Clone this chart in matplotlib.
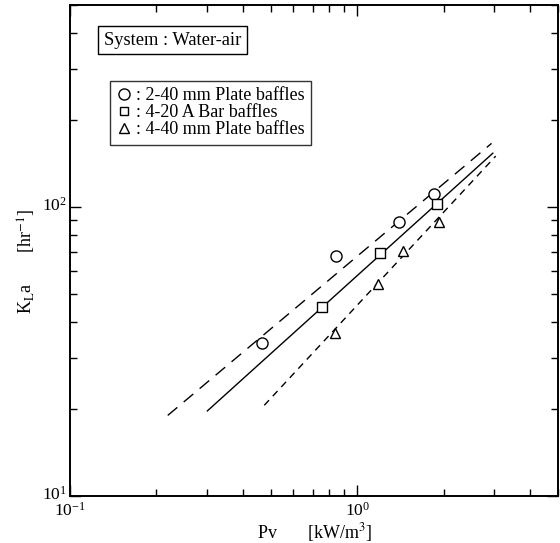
import matplotlib
matplotlib.use("Agg")
import matplotlib.pyplot as plt
import matplotlib.transforms as mtransforms
from matplotlib.ticker import LogLocator, NullFormatter
from matplotlib.lines import Line2D

plt.rcParams['font.family'] = ['Liberation Serif', 'DejaVu Serif']
plt.rcParams['mathtext.fontset'] = 'stix'

# data
pv_circle = [0.468, 0.845, 1.40, 1.85]
kla_circle = [33.7, 67.8, 88.8, 110.9]
pv_square = [0.756, 1.20, 1.90]
kla_square = [44.9, 69.4, 102.4]
pv_triangle = [0.839, 1.18, 1.44, 1.93]
kla_triangle = [36.5, 54.2, 70.5, 88.8]

# fitted lines (end points)
fit_circle_x = [0.219, 2.94]
fit_circle_y = [19.0, 166.0]
fit_square_x = [0.301, 2.97]
fit_square_y = [19.7, 153.5]
fit_triangle_x = [0.475, 3.04]
fit_triangle_y = [20.6, 150.0]

labels = [': 2-40 mm Plate baffles', ': 4-20 A Bar baffles', ': 4-40 mm Plate baffles']

fig = plt.figure(figsize=(5.6, 5.43), dpi=100)
ax = fig.add_axes([0.125, 0.0866, 0.871, 0.9042])
ax.set_xscale('log')
ax.set_yscale('log')
ax.set_xlim(0.1, 5)
ax.set_ylim(10, 500)

ax.plot(fit_circle_x, fit_circle_y, color='black', lw=1.0, dashes=(9, 6))
ax.plot(fit_square_x, fit_square_y, color='black', lw=1.0)
ax.plot(fit_triangle_x, fit_triangle_y, color='black', lw=1.0, dashes=(5, 4))

ax.plot(pv_circle, kla_circle, 'o', ms=8, mfc='white', mec='black', mew=1.0, ls='none')
ax.plot(pv_square, kla_square, 's', ms=6.5, mfc='white', mec='black', mew=1.0, ls='none')
ax.plot(pv_triangle, kla_triangle, '^', ms=7.5, mfc='white', mec='black', mew=1.0, ls='none')

for s in ax.spines.values():
    s.set_linewidth(1.4)

ax.xaxis.set_major_locator(LogLocator(base=10))
ax.yaxis.set_major_locator(LogLocator(base=10))
ax.xaxis.set_minor_locator(LogLocator(base=10, subs=range(2, 10)))
ax.yaxis.set_minor_locator(LogLocator(base=10, subs=range(2, 10)))
ax.xaxis.set_minor_formatter(NullFormatter())
ax.yaxis.set_minor_formatter(NullFormatter())
ax.tick_params(which='both', direction='in', top=True, right=True, labelsize=12.5, width=1.0)
ax.tick_params(axis='x', which='major', length=8, pad=4)
ax.tick_params(axis='y', which='major', length=8, pad=2)
ax.tick_params(which='minor', length=5)

# nudge y tick labels up a little, as in the scan
shift = mtransforms.ScaledTranslation(0, 3 / 100, fig.dpi_scale_trans)
for lbl in ax.get_yticklabels():
    lbl.set_transform(lbl.get_transform() + shift)

ax.set_xlabel('Pv       [kW/m$^3$]', fontsize=13)
ax.set_ylabel('K$_{\\rm L}$a       [hr$^{-1}$]', fontsize=13)
ax.xaxis.set_label_coords(0.502, -0.050)
ax.yaxis.set_label_coords(-0.065, 0.477)

ax.text(0.069, 0.928, 'System : Water-air', transform=ax.transAxes, fontsize=13.3,
        va='center', ha='left',
        bbox=dict(boxstyle='square,pad=0.3', fc='white', ec='black', lw=1.0))

handles = [
    Line2D([], [], marker='o', ms=8, mfc='white', mec='black', ls='none'),
    Line2D([], [], marker='s', ms=6, mfc='white', mec='black', ls='none'),
    Line2D([], [], marker='^', ms=7, mfc='white', mec='black', ls='none'),
]
leg = ax.legend(handles, labels, loc='upper left', bbox_to_anchor=(0.082, 0.845),
                fontsize=13, frameon=True, fancybox=False, handlelength=0.8,
                handletextpad=0.3, borderpad=0.35, labelspacing=0.0, borderaxespad=0)
leg.get_frame().set_edgecolor('black')
leg.get_frame().set_linewidth(1.0)

fig.savefig('out.png', dpi=100)
